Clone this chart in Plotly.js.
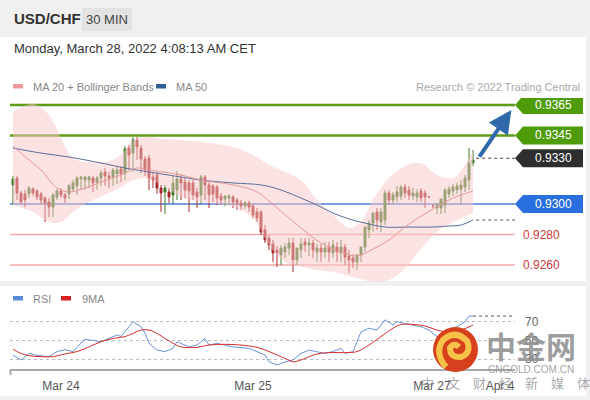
<!DOCTYPE html>
<html><head><meta charset="utf-8">
<script src="https://cdn.plot.ly/plotly-3.0.1.min.js"></script>
<style>html,body{margin:0;padding:0;background:#f0f0f0;}#chart{width:590px;height:400px;}</style>
</head><body><div id="chart"></div>
<script>
// ---------- DATA ----------
const openP = [.93125,.93170,.93072,.93066,.93066,.93098,.93085,.93066,.93039,.93013,
.92980,.93046,.93085,.93059,.93066,.93098,.93118,.93164,.93157,.93157,
.93170,.93144,.93170,.93210,.93184,.93177,.93197,.93230,.93203,.93367,
.93334,.93420,.93367,.93295,.93302,.93177,.93190,.93105,.93079,.93079,
.93059,.93092,.93164,.93144,.93138,.93138,.93079,.93059,.93177,.93125,
.93118,.93111,.93052,.93033,.93039,.93046,.93026,.93007,.92987,.93007,
.92987,.92948,.92948,.92830,.92777,.92738,.92698,.92666,.92685,.92711,
.92744,.92633,.92698,.92751,.92731,.92744,.92685,.92711,.92685,.92718,
.92679,.92718,.92679,.92718,.92659,.92646,.92620,.92666,.92718,.92830,
.92875,.92948,.92882,.92895,.93072,.93026,.93046,.93052,.93111,.93092,
.93052,.93046,.93085,.93072,.93046,.92987,.92974,.92974,.92993,.93066,
.93085,.93092,.93098,.93111,.93157,.93269];
const highP = [.93184,.93184,.93085,.93092,.93118,.93111,.93098,.93079,.93052,.93039,
.93072,.93098,.93105,.93072,.93131,.93157,.93184,.93184,.93184,.93184,
.93184,.93184,.93223,.93236,.93210,.93236,.93249,.93249,.93380,.93387,
.93439,.93439,.93387,.93315,.93321,.93210,.93210,.93125,.93125,.93105,
.93184,.93216,.93197,.93170,.93157,.93157,.93105,.93190,.93190,.93144,
.93131,.93125,.93072,.93059,.93066,.93059,.93039,.93026,.93020,.93020,
.93000,.92974,.92961,.92862,.92797,.92764,.92724,.92731,.92744,.92777,
.92777,.92711,.92777,.92777,.92777,.92764,.92738,.92738,.92751,.92751,
.92764,.92751,.92764,.92738,.92698,.92672,.92672,.92718,.92849,.92895,
.92941,.92974,.92974,.93092,.93092,.93079,.93118,.93125,.93131,.93118,
.93105,.93098,.93105,.93092,.93052,.93000,.93007,.93033,.93105,.93118,
.93131,.93138,.93157,.93190,.93367,.93354];
const lowP = [.93000,.93026,.93000,.92980,.93039,.93052,.93026,.93000,.92882,.92915,
.92915,.93026,.93039,.93007,.93033,.93079,.93059,.93092,.93092,.93105,
.93079,.93092,.93118,.93118,.93105,.93118,.93131,.93144,.93157,.93223,
.93210,.93289,.93203,.93184,.93092,.93105,.93066,.92948,.92935,.93007,
.93000,.93026,.93026,.93039,.92948,.93026,.92974,.93000,.93026,.92974,
.93013,.92993,.93000,.92987,.92993,.92974,.92961,.92961,.92967,.92948,
.92908,.92882,.92797,.92744,.92698,.92620,.92587,.92600,.92646,.92666,
.92554,.92600,.92646,.92685,.92659,.92646,.92620,.92620,.92646,.92620,
.92646,.92620,.92620,.92600,.92548,.92580,.92567,.92620,.92685,.92777,
.92816,.92830,.92816,.92862,.92993,.93000,.93013,.93026,.93039,.93026,
.93026,.93013,.93013,.92974,.93039,.92974,.92935,.92935,.92941,.93039,
.93052,.93066,.93000,.93079,.93092,.93249];
const closeP = [.93164,.93072,.93013,.93026,.93105,.93072,.93046,.93026,.93007,.92980,
.93059,.93085,.93059,.93039,.93118,.93138,.93170,.93177,.93177,.93177,
.93138,.93170,.93203,.93184,.93170,.93223,.93223,.93197,.93361,.93321,
.93420,.93374,.93295,.93223,.93170,.93157,.93105,.93072,.93105,.93046,
.93138,.93164,.93138,.93092,.93085,.93059,.93046,.93177,.93125,.93059,
.93066,.93039,.93026,.93052,.93052,.93013,.93007,.92987,.93007,.92980,
.92928,.92908,.92816,.92764,.92731,.92679,.92679,.92711,.92718,.92744,
.92633,.92711,.92738,.92731,.92744,.92698,.92711,.92685,.92711,.92685,
.92731,.92685,.92718,.92652,.92633,.92620,.92666,.92718,.92849,.92875,
.92941,.92895,.92948,.93072,.93026,.93059,.93079,.93111,.93072,.93059,
.93072,.93072,.93039,.93046,.93046,.92987,.92993,.93033,.93092,.93098,
.93111,.93118,.93125,.93170,.93269,.93289];

const ma50Idx = [0,7,14,22,28,34,42,47,55,62,67,72,76,80,84,88,93,99,105,109,112,115];
const ma50 = [.93367,.93334,.93308,.93269,.93236,.93210,.93177,.93157,.93138,.93125,.93092,
.93039,.92993,.92941,.92902,.92875,.92849,.92849,.92849,.92856,.92862,.92895];

const ma20Idx = [0,4,7,11,14,18,22,27,31,34,42,47,55,61,66,72,77,82,86,90,94,99,105,110,115];
const ma20 = [.93380,.93289,.93223,.93105,.93079,.93105,.93144,.93190,.93236,.93223,.93190,
.93157,.93125,.93079,.92974,.92843,.92744,.92685,.92659,.92705,.92764,.92869,.92967,.93039,.93085];

const bbIdx = [0,5,9,12,15,19,24,27,30,33,38,42,47,55,60,64,68,72,76,80,84,87,90,94,98,102,106,110,113,115];
const bbUpper = [.93603,.93656,.93584,.93433,.93302,.93275,.93282,.93321,.93420,.93439,.93426,
.93420,.93407,.93374,.93321,.93256,.93210,.93157,.93026,.92928,.92843,.92882,.93026,.93170,
.93249,.93269,.93190,.93170,.93256,.93354];
const bbLower = [.92993,.92948,.92882,.92882,.92948,.93013,.93072,.93111,.93157,.93170,.93111,
.93046,.93013,.92980,.92908,.92731,.92620,.92587,.92567,.92554,.92528,.92508,.92489,.92502,
.92580,.92705,.92816,.92882,.92915,.92941];

const rsiIdx = [0,2,4,6,9,11,13,15,17,18,20,22,24,26,27,29,30,32,33,34,36,38,40,41,44,46,48,49,51,55,
59,63,64,66,68,70,72,74,76,78,80,82,83,85,87,89,91,93,95,96,98,100,102,104,106,108,110,111,113,114,115];
const rsi = [34,29,36,34,32.5,38,40,38,47,51,50,48.5,52,55.7,54,65,70,64.6,57.5,47,39.6,38,41.4,48.6,43,45,52,45,46.8,43,
41.4,34.3,27,23.6,27,29,36,39.6,38,36,38,41.4,36,38,59,63,61,72,66.4,70,68,66.4,64.6,61,54,57.5,63,64.6,70,76,76];

const ma9Idx = [0,2,4,7,10,13,16,19,22,25,28,30,32,34,36,38,40,42,46,49,53,57,61,64,68,70,72,76,80,83,86,89,92,95,97,100,103,106,109,112,115];
const ma9 = [40.4,36,33.6,32.5,32.5,35.4,38,43,48.6,52,54,57.5,61,61,57.5,52,47,43,42.5,45,45.7,45,42.5,38,30.7,27,29,35.4,37,36.8,38,45,54,63,67,67,65.4,61,59,61,66.4];

const levels = [0.9365, 0.9345, 0.9330, 0.9300, 0.9280, 0.9260];
const levelLabels = ['0.9365','0.9345','0.9330','0.9300','0.9280','0.9260'];
const dateIdx = [12, 60, 104.75, 121.75];
const dateLabels = ['Mar 24','Mar 25','Mar 27','Apr 4'];
const rsiTicks = [30, 50, 70];

// ---------- HELPERS ----------
const W = 590, H = 400;
const px = x => x / W, py = y => 1 - y / H;
const idxs = openP.map((_, i) => i);
const lastIdx = idxs[idxs.length - 1];
const font = 'Liberation Sans, Arial, sans-serif';

// ---------- TRACES ----------
const traces = [
  {x: bbIdx, y: bbUpper, type: 'scatter', mode: 'lines', line: {width: 0, shape: 'spline', smoothing: 1}, hoverinfo: 'skip', xaxis: 'x', yaxis: 'y'},
  {x: bbIdx, y: bbLower, type: 'scatter', mode: 'lines', line: {width: 0, shape: 'spline', smoothing: 1}, fill: 'tonexty', fillcolor: 'rgba(249,200,200,0.5)', hoverinfo: 'skip', xaxis: 'x', yaxis: 'y'},
  {x: ma50Idx, y: ma50, type: 'scatter', mode: 'lines', line: {width: 1, color: '#5a6e9c', shape: 'spline'}, hoverinfo: 'skip', xaxis: 'x', yaxis: 'y'},
  {x: ma20Idx, y: ma20, type: 'scatter', mode: 'lines', line: {width: 1, color: '#e69898', shape: 'spline'}, hoverinfo: 'skip', xaxis: 'x', yaxis: 'y'},
  {x: idxs, open: openP, high: highP, low: lowP, close: closeP, type: 'candlestick', xaxis: 'x', yaxis: 'y',
   increasing: {line: {color: '#3f7a28', width: 1}, fillcolor: '#3f7a28'},
   decreasing: {line: {color: '#a82a2a', width: 1}, fillcolor: '#a82a2a'},
   whiskerwidth: 0, hoverinfo: 'skip'},
  {x: rsiIdx, y: rsi, type: 'scatter', mode: 'lines', line: {width: 1, color: '#6a93d8'}, hoverinfo: 'skip', xaxis: 'x2', yaxis: 'y2'},
  {x: ma9Idx, y: ma9, type: 'scatter', mode: 'lines', line: {width: 1, color: '#d83030', shape: 'spline'}, hoverinfo: 'skip', xaxis: 'x2', yaxis: 'y2'}
];

// ---------- SHAPES ----------
const shapes = [];
shapes.push({type: 'rect', xref: 'paper', yref: 'paper', x0: 0, x1: px(586), y0: py(281), y1: py(37), fillcolor: '#ffffff', line: {width: 0}, layer: 'below'});
shapes.push({type: 'rect', xref: 'paper', yref: 'paper', x0: 0, x1: px(586), y0: py(396), y1: py(286), fillcolor: '#ffffff', line: {width: 0}, layer: 'below'});
shapes.push({type: 'rect', xref: 'paper', yref: 'paper', x0: px(82), x1: px(132), y0: py(31), y1: py(8), fillcolor: '#e3e3e3', line: {width: 0}, layer: 'below'});

const lineStyle = [
  {color: '#5e9b16', width: 2.5}, {color: '#5e9b16', width: 2.5}, null,
  {color: '#4a7fd6', width: 1.5}, {color: '#f4a8a8', width: 1.5}, {color: '#f4a8a8', width: 1.5}
];
levels.forEach((lv, i) => {
  if (lineStyle[i]) shapes.push({type: 'line', xref: 'paper', yref: 'y', x0: px(10), x1: px(515), y0: lv, y1: lv, line: lineStyle[i], layer: 'below'});
});
const tagColor = ['#4f9c0b', '#4f9c0b', '#2e2e2e', '#2a6fde', null, null];
const hh = 9 / 15250;
levels.forEach((lv, i) => {
  if (!tagColor[i]) return;
  const path = `M ${px(515)},${lv} L ${px(523)},${lv + hh} L ${px(583)},${lv + hh} L ${px(583)},${lv - hh} L ${px(523)},${lv - hh} Z`;
  shapes.push({type: 'path', xref: 'paper', yref: 'y', path: path, fillcolor: tagColor[i], line: {width: 0}});
});
shapes.push({type: 'line', xref: 'x', yref: 'y', x0: lastIdx + 0.8, x1: 125.5, y0: levels[2], y1: levels[2], line: {color: '#444', width: 1, dash: 'dot'}});
shapes.push({type: 'line', xref: 'x', yref: 'y', x0: lastIdx + 0.8, x1: 125.5, y0: ma50[ma50.length - 1], y1: ma50[ma50.length - 1], line: {color: '#555', width: 1, dash: 'dot'}});
shapes.push({type: 'line', xref: 'x2', yref: 'y2', x0: lastIdx, x1: 125, y0: rsi[rsi.length - 1], y1: rsi[rsi.length - 1], line: {color: '#555', width: 1, dash: 'dot'}});
shapes.push({type: 'line', xref: 'paper', yref: 'paper', x0: px(10.5), x1: px(10.5), y0: py(369), y1: py(375), line: {color: '#aaa', width: 2}});
shapes.push({type: 'rect', xref: 'paper', yref: 'paper', x0: px(13), x1: px(23), y0: py(88.5), y1: py(84), fillcolor: '#ee9a9a', line: {width: 0}});
shapes.push({type: 'rect', xref: 'paper', yref: 'paper', x0: px(156), x1: px(166), y0: py(88.5), y1: py(84), fillcolor: '#2f5d96', line: {width: 0}});
shapes.push({type: 'rect', xref: 'paper', yref: 'paper', x0: px(13), x1: px(23), y0: py(300.5), y1: py(296), fillcolor: '#5b8bd6', line: {width: 0}});
shapes.push({type: 'rect', xref: 'paper', yref: 'paper', x0: px(61), x1: px(71), y0: py(300.5), y1: py(296), fillcolor: '#d42020', line: {width: 0}});
shapes.push({type: 'circle', xref: 'paper', yref: 'paper', x0: px(433), x1: px(478), y0: py(372), y1: py(327), fillcolor: '#d6401c', line: {width: 0}});
const P = (x, y) => `${px(x)},${py(y)}`;
shapes.push({type: 'path', xref: 'paper', yref: 'paper',
  path: `M ${P(446,367)} Q ${P(434,353)} ${P(443,340)} Q ${P(455,329)} ${P(467,341)} Q ${P(472,353)} ${P(461,357)} Q ${P(450,358)} ${P(450,348)} Q ${P(454,342)} ${P(459,347)}`,
  line: {color: '#f6c24a', width: 6}});

// ---------- ANNOTATIONS ----------
const ann = [];
const txt = (x, y, text, size, color, anchor, extra) => Object.assign({xref: 'paper', yref: 'paper', x: px(x), y: py(y), text: text, showarrow: false,
  xanchor: anchor || 'left', yanchor: 'middle', font: {family: font, size: size, color: color}}, extra || {});
ann.push(txt(12, 19, '<b>USD/CHF</b>', 15, '#333'));
ann.push(txt(107, 19.5, '30 MIN', 13, '#444', 'center'));
ann.push(txt(12, 48, 'Monday, March 28, 2022 4:08:13 AM CET', 13, '#333'));
ann.push(txt(31, 86.5, 'MA 20 + Bollinger Bands', 11, '#888'));
ann.push(txt(174, 86.5, 'MA 50', 11, '#888'));
ann.push(txt(582, 86.5, 'Research © 2022 Trading Central', 11, '#aaa', 'right'));
ann.push(txt(31, 298.5, 'RSI', 11, '#888'));
ann.push(txt(80, 298.5, '9MA', 11, '#888'));
const tagTextColor = ['#fff', '#fff', '#fff', '#fff', '#c93a3a', '#c93a3a'];
levels.forEach((lv, i) => {
  ann.push({xref: 'paper', yref: 'y', x: tagColor[i] ? px(553) : px(541), y: lv, text: levelLabels[i], showarrow: false,
    xanchor: 'center', yanchor: 'middle', font: {family: font, size: 12, color: tagTextColor[i]}});
});
ann.push({xref: 'x', yref: 'y', x: 124.6, y: 0.93616, ax: -33, ay: 48, text: '', showarrow: true,
  arrowhead: 2, arrowsize: 1.15, arrowwidth: 4, arrowcolor: '#2f69a9', standoff: 0, startstandoff: 0});
ann.push(txt(531, 345, '<b>中金网</b>', 30, 'rgba(140,140,140,0.85)', 'center', {font: {family: 'Noto Sans CJK SC', size: 30, color: 'rgba(140,140,140,0.85)'}}));
ann.push(txt(531, 369, 'CNGOLD.COM.CN', 10, 'rgba(140,140,140,0.8)', 'center'));
ann.push(txt(505, 382, '中　文　财　经　新　媒　体', 13, 'rgba(150,150,150,0.8)', 'center', {font: {family: 'Noto Sans CJK SC', size: 13, color: 'rgba(140,140,140,0.75)'}}));

// ---------- LAYOUT ----------
const xr = [-0.75, 125.5];
const layout = {
  width: W, height: H, margin: {l: 0, r: 0, t: 0, b: 0},
  paper_bgcolor: '#f0f0f0', plot_bgcolor: 'rgba(0,0,0,0)', showlegend: false,
  font: {family: font},
  xaxis: {domain: [px(10), px(515)], range: xr, showgrid: false, zeroline: false, showticklabels: false, showline: false,
    rangeslider: {visible: false}, anchor: 'y', fixedrange: true},
  yaxis: {domain: [py(285), py(98)], range: [0.924689, 0.936951], showgrid: false, zeroline: false, showticklabels: false, anchor: 'x', fixedrange: true},
  xaxis2: {domain: [px(10), px(515)], range: xr, anchor: 'y2', showline: true, linecolor: '#aaaaaa', linewidth: 2,
    tickmode: 'array', tickvals: dateIdx, ticktext: dateLabels, ticks: '', showgrid: false, zeroline: false,
    tickfont: {family: font, size: 12, color: '#555'}, ticklabelstandoff: 4, fixedrange: true},
  yaxis2: {domain: [py(369.3), py(310)], range: [19, 82.5], anchor: 'x2', side: 'right', tickmode: 'array', tickvals: rsiTicks,
    showgrid: true, gridcolor: '#bbbbbb', griddash: 'dot', gridwidth: 1, ticks: '', zeroline: false, showline: false,
    tickfont: {family: font, size: 12, color: '#666'}, ticklabelstandoff: 9, fixedrange: true},
  shapes: shapes, annotations: ann
};
Plotly.newPlot('chart', traces, layout, {staticPlot: true, displayModeBar: false});
</script></body></html>
